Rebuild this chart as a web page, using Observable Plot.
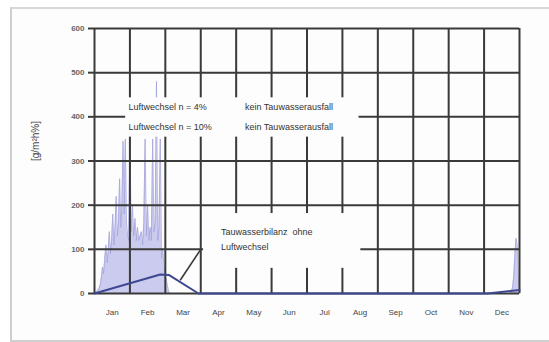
<!DOCTYPE html>
<html>
<head>
<meta charset="utf-8">
<script src="https://cdn.jsdelivr.net/npm/d3@7"></script>
<script src="https://cdn.jsdelivr.net/npm/@observablehq/plot@0.6"></script>
<style>
  html, body { margin: 0; padding: 0; background: #ffffff; }
  #wrap { position: relative; width: 549px; height: 342px; overflow: hidden; }
  #frame { position: absolute; left: 10px; top: 7px; width: 545px; height: 331px;
           border-left: 2px solid #cfcfcf; border-top: 2px solid #d8d8d8; border-bottom: 2px solid #cfcfcf;
           background: #fdfdfe; }
  #chart { position: absolute; left: 0; top: 0; }
</style>
</head>
<body>
<div id="wrap"><div id="frame"></div><div id="chart"></div></div>
<script>
// ---- data ----
const months = ["Jan","Feb","Mar","Apr","May","Jun","Jul","Aug","Sep","Oct","Nov","Dec"];
const monthDays = [31,28,31,30,31,30,31,31,30,31,30,31];
const yTicks = [0,100,200,300,400,500,600];
const yLabel = "[g/m²h%]";

// hourly-spike envelope, winter (day of year, value)
const winterDays = [0,1,2,3,4,5,6,7,8,9,10,11,12,13,14,15,16,17,18,19,20,21,22,23,24,25,26,27,28,29,30,31,32,33,34,35,36,37,38,39,40,41,42,43,44,45,46,47,48,49,50,51,52,53,54,55,56,57,58,59,60,61,62,63];
const winterValues = [0,2,4,8,12,20,35,60,45,80,110,70,95,140,90,120,180,110,150,220,130,160,260,150,200,345,180,350,160,130,120,350,140,200,130,170,120,150,120,130,140,110,160,350,130,200,120,150,120,350,140,160,480,120,150,350,80,100,60,40,30,15,5,0];
// end-of-December spike
const decDays = [357,358,359,360,361,362,363,364,365];
const decValues = [0,5,15,40,90,125,110,30,0];

// dark blue balance curve
const lineDays = [0,55,62,88,337,365];
const lineValues = [0,43,42,0,0,8];

// annotations
const labelBoxes = [
  {x1: 0.88, x2: 7.47, y1: 354, y2: 443},
  {x1: 3.08, x2: 7.52, y1: 57, y2: 181}
];
const labels = [
  {x: 0.96, y: 421, text: "Luftwechsel n = 4%"},
  {x: 4.25, y: 421, text: "kein Tauwasserausfall"},
  {x: 0.96, y: 376, text: "Luftwechsel n = 10%"},
  {x: 4.25, y: 376, text: "kein Tauwasserausfall"},
  {x: 3.57, y: 138, text: "Tauwasserbilanz  ohne"},
  {x: 3.57, y: 104, text: "Luftwechsel"}
];
const leader = [{x1: 3.0, y1: 100, x2: 2.42, y2: 30}];

// ---- helpers ----
const monthStart = d3.cumsum([0, ...monthDays]);
function dayToMonth(d) {
  let i = Math.min(11, d3.bisectRight(monthStart, d) - 1);
  return i + (d - monthStart[i]) / monthDays[i];
}
const winter = winterDays.map((d, i) => ({x: dayToMonth(d), y: winterValues[i]}));
const dec = decDays.map((d, i) => ({x: dayToMonth(d), y: decValues[i]}));
const curve = lineDays.map((d, i) => ({x: dayToMonth(d), y: lineValues[i]}));
const monthEdges = d3.range(months.length + 1);
const monthMids = months.map((m, i) => i + 0.5);

const grid = "#3a3a3a";
const chart = Plot.plot({
  width: 549,
  height: 342,
  marginLeft: 94,
  marginRight: 30,
  marginTop: 28,
  marginBottom: 49,
  style: {background: "transparent", fontFamily: "Liberation Sans, Arial, sans-serif"},
  x: {domain: [0, 12]},
  y: {domain: [0, 600]},
  marks: [
    Plot.areaY(winter, {x: "x", y: "y", fill: "#b9b9ea", fillOpacity: 0.75}),
    Plot.lineY(winter, {x: "x", y: "y", stroke: "#a3a3dc", strokeWidth: 0.8}),
    Plot.areaY(dec, {x: "x", y: "y", fill: "#b9b9ea", fillOpacity: 0.75}),
    Plot.lineY(dec, {x: "x", y: "y", stroke: "#a3a3dc", strokeWidth: 0.8}),
    Plot.ruleY(yTicks, {stroke: grid, strokeWidth: 2}),
    Plot.ruleX(monthEdges, {stroke: grid, strokeWidth: 2}),
    Plot.rect(labelBoxes, {x1: "x1", x2: "x2", y1: "y1", y2: "y2", fill: "#fdfdfe"}),
    Plot.line(curve, {x: "x", y: "y", stroke: "#3d4890", strokeWidth: 2}),
    Plot.link(leader, {x1: "x1", y1: "y1", x2: "x2", y2: "y2", stroke: grid, strokeWidth: 1.6}),
    Plot.text(labels, {x: "x", y: "y", text: "text", textAnchor: "start", fontSize: 9, fill: "#333"}),
    Plot.axisY(yTicks, {tickSize: 6, tickPadding: 4, fontSize: 8, fontWeight: "bold", fill: "#666", stroke: grid, strokeWidth: 2, label: null}),
    Plot.axisX(monthMids, {tickSize: 0, tickPadding: 16, fontSize: 8, fill: "#444", tickFormat: (d, i) => months[Math.floor(d)], label: null}),
    Plot.text([yLabel], {frameAnchor: "left", dx: -59, rotate: -90, fontSize: 10, fill: "#444"})
  ]
});
document.getElementById("chart").appendChild(chart);
</script>
</body>
</html>
